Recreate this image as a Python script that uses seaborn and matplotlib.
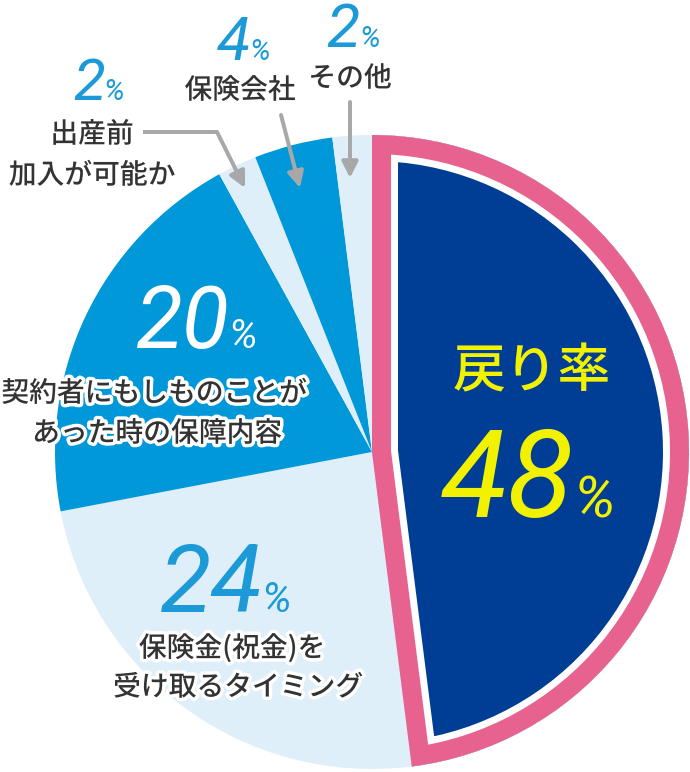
import matplotlib
matplotlib.use("Agg")
import matplotlib.pyplot as plt
import matplotlib.patheffects as pe
import seaborn as sns

# ---- data ----
shares = [48, 24, 20, 2, 4, 2]
slice_colors = ["#003e95", "#deeff9", "#0098d8", "#deeff9", "#0098d8", "#deeff9"]
pct_labels = ["48", "24", "20", "2", "4", "2"]
cat_labels = ["戻り率", "保険金(祝金)を\n受け取るタイミング", "契約者にもしものことが\nあった時の保障内容",
              "出産前\n加入が可能か", "保険会社", "その他"]

PINK = "#e8628f"
BLUE_TXT = "#1b9ad7"
YELLOW = "#f2f200"
DARK = "#333333"
GRAY = "#a8a8a8"

sns.set_theme(style="white")
plt.rcParams["font.family"] = ["Noto Sans CJK JP", "DejaVu Sans"]

W, H = 690, 772
fig = plt.figure(figsize=(W / 100, H / 100), dpi=100)
ax = fig.add_axes([0, 0, 1, 1])

def Y(py):
    return H - py

CX, CY, R = 372, Y(452), 317
PX = 0.72  # points per pixel

# base pie
wedges, _ = ax.pie(shares, colors=slice_colors, startangle=90, counterclock=False,
                   center=(CX, CY), radius=R, wedgeprops=dict(linewidth=0))
main = wedges[0]

# white then pink inner bands (strokes clipped to the main slice)
for lw_px, col in [(52, "white"), (38, PINK)]:
    ws, _ = ax.pie([shares[0], sum(shares[1:])], startangle=90, counterclock=False,
                   center=(CX, CY), radius=R,
                   wedgeprops=dict(facecolor="none", edgecolor=col, linewidth=lw_px * PX,
                                   joinstyle="miter"))
    ws[1].set_visible(False)
    ws[0].set_clip_on(True)
    ws[0].set_clip_path(main)

ax.set_xlim(0, W)
ax.set_ylim(0, H)
ax.set_aspect("equal")
ax.axis("off")

# ---- percentage labels (number + small %) ----
num_font = dict(family=["Roboto", "DejaVu Sans"], style="italic")
def pct(num, x_split, base_y, size, psize, color, weight="normal", gap=0):
    ax.text(x_split, Y(base_y), num, ha="right", va="baseline", fontsize=size,
            color=color, fontweight=weight, **num_font)
    ax.text(x_split + gap, Y(base_y), "%", ha="left", va="baseline", fontsize=psize,
            color=color, fontweight=weight, **num_font)

pct(pct_labels[0], 574, 517, 88, 42, YELLOW, gap=0)
pct(pct_labels[1], 263, 612, 68, 30, BLUE_TXT, gap=-2)
pct(pct_labels[2], 230, 348, 62, 29, "white", gap=-2)
pct(pct_labels[3], 105, 100, 42, 21, BLUE_TXT, gap=-2)
pct(pct_labels[4], 250, 60, 44, 21, BLUE_TXT, gap=-1)
pct(pct_labels[5], 360, 47, 44, 21, BLUE_TXT, gap=-1)

# ---- category labels ----
outline = [pe.withStroke(linewidth=5, foreground="white")]
def jp(text, x, y, size=20, color=DARK, weight="medium", effects=outline):
    ax.text(x, Y(y), text, ha="center", va="center", fontsize=size, color=color,
            fontweight=weight, path_effects=effects)

jp(cat_labels[0], 532, 372, size=38, color=YELLOW, effects=None)
l1, l2 = cat_labels[1].split("\n")
jp(l1, 232, 648)
jp(l2, 238, 687)
l1, l2 = cat_labels[2].split("\n")
jp(l1, 154, 393)
jp(l2, 157, 433)
l1, l2 = cat_labels[3].split("\n")
jp(l1, 92, 134)
jp(l2, 92, 175)
jp(cat_labels[4], 240, 90)
jp(cat_labels[5], 350, 78)

# ---- leader arrows ----
LW = 4 * PX
arrow_kw = dict(arrowstyle="-|>", color=GRAY, lw=LW, mutation_scale=24,
                shrinkA=0, shrinkB=0)
ax.plot([143, 218], [Y(132), Y(132)], color=GRAY, lw=LW, solid_capstyle="butt")
ax.annotate("", xy=(245, Y(188)), xytext=(217, Y(132)), arrowprops=arrow_kw)
ax.annotate("", xy=(300, Y(188)), xytext=(281, Y(115)), arrowprops=arrow_kw)
ax.annotate("", xy=(350, Y(178)), xytext=(350, Y(102)), arrowprops=arrow_kw)

fig.savefig("out.png", dpi=100, facecolor="white")
